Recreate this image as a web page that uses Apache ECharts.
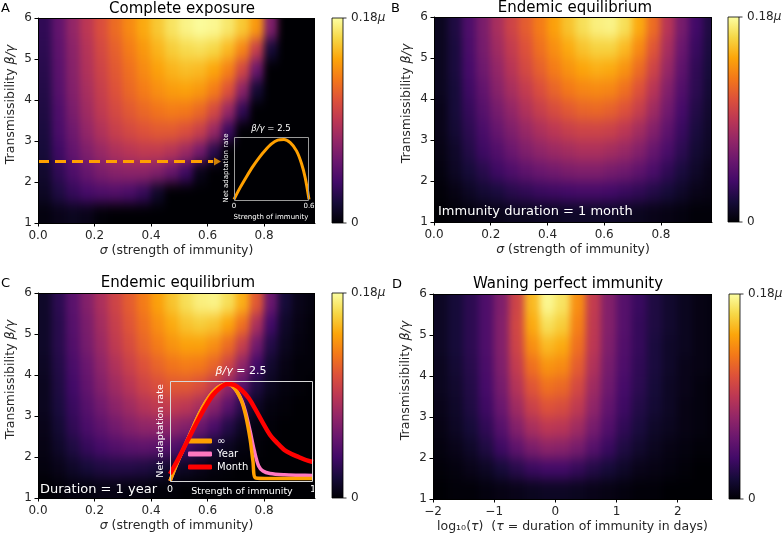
<!DOCTYPE html>
<html>
<head>
<meta charset="utf-8">
<script src="https://cdn.jsdelivr.net/npm/echarts@6/dist/echarts.min.js"></script>
<style>
    html, body { margin: 0; padding: 0; background: #fff; }
    #wrap { position: relative; width: 783px; height: 540px; }
    #heatClip, #main { position: absolute; left: 0; top: 0; width: 783px; height: 540px; }
    #heat { width: 783px; height: 540px; filter: url(#soften); }
</style>
</head>
<body>
<svg width="0" height="0" style="position:absolute">
    <filter id="soften" x="0" y="0" width="100%" height="100%" color-interpolation-filters="sRGB">
        <feGaussianBlur stdDeviation="3.8 6.5"/>
    </filter>
</svg>
<div id="wrap">
    <div id="heatClip"><div id="heat"></div></div>
    <div id="main"></div>
</div>
<script>
// ---- data (heat values in % of 0.18 mu) ----
var sigmaCentres = [0.025, 0.075, 0.125, 0.175, 0.225, 0.275, 0.325, 0.375, 0.425, 0.475,
                    0.525, 0.575, 0.625, 0.675, 0.725, 0.775, 0.825, 0.875, 0.925, 0.975];
var logTauCentres = [-1.875, -1.625, -1.375, -1.125, -0.875, -0.625, -0.375, -0.125, 0.125, 0.375,
                     0.625, 0.875, 1.125, 1.375, 1.625, 1.875, 2.125, 2.375, 2.625];
var betaCentres = [1.25, 1.75, 2.25, 2.75, 3.25, 3.75, 4.25, 4.75, 5.25, 5.75];

// rows run from beta/gamma = 1.25 (bottom) to 5.75 (top)
var completeExposure = [
    [2, 4, 5, 4, 1, 0, 0, 0, 0, 0, 0, 0, 0, 0, 0, 0, 0, 0, 0, 0],
    [6, 12, 17, 21, 23, 24, 22, 17, 7, 0, 0, 0, 0, 0, 0, 0, 0, 0, 0, 0],
    [8, 16, 23, 29, 34, 37, 38, 38, 35, 29, 19, 4, 0, 0, 0, 0, 0, 0, 0, 0],
    [10, 19, 28, 35, 41, 46, 49, 51, 51, 48, 42, 32, 14, 0, 0, 0, 0, 0, 0, 0],
    [11, 22, 31, 40, 47, 53, 57, 60, 62, 62, 59, 53, 41, 18, 0, 0, 0, 0, 0, 0],
    [12, 23, 34, 43, 51, 57, 62, 66, 69, 71, 70, 66, 57, 41, 16, 0, 0, 0, 0, 0],
    [13, 25, 36, 45, 53, 60, 66, 71, 75, 78, 79, 77, 71, 60, 38, 9, 0, 0, 0, 0],
    [14, 26, 37, 47, 55, 62, 68, 74, 79, 83, 85, 84, 80, 72, 56, 30, 0, 0, 0, 0],
    [15, 27, 38, 48, 57, 64, 71, 77, 83, 88, 91, 92, 90, 84, 73, 53, 10, 0, 0, 0],
    [16, 28, 40, 50, 59, 67, 74, 81, 87, 93, 97, 99, 98, 94, 87, 77, 35, 0, 0, 0]
];
var endemicMonth = [
    [0, 1, 2, 3, 4, 5, 5, 6, 6, 7, 7, 7, 7, 6, 5, 4, 3, 2, 1, 1],
    [1, 3, 6, 9, 11, 14, 16, 18, 19, 20, 21, 21, 20, 18, 16, 13, 10, 7, 4, 3],
    [2, 6, 10, 14, 19, 23, 27, 30, 32, 34, 35, 35, 33, 31, 27, 22, 16, 11, 7, 4],
    [3, 7, 13, 19, 24, 30, 35, 39, 42, 44, 46, 46, 44, 41, 36, 29, 22, 15, 9, 6],
    [4, 9, 15, 22, 29, 35, 41, 46, 50, 53, 55, 55, 54, 50, 44, 36, 27, 18, 11, 7],
    [4, 10, 17, 25, 33, 40, 47, 53, 58, 62, 65, 66, 64, 60, 53, 43, 32, 21, 13, 8],
    [5, 10, 19, 28, 37, 45, 52, 59, 65, 70, 73, 74, 73, 68, 60, 49, 36, 24, 15, 9],
    [5, 11, 21, 31, 40, 49, 57, 64, 71, 76, 80, 82, 81, 76, 67, 55, 41, 27, 16, 10],
    [5, 11, 22, 33, 43, 52, 60, 68, 75, 81, 86, 89, 89, 84, 74, 61, 45, 30, 18, 11],
    [5, 12, 23, 34, 45, 55, 63, 71, 79, 86, 92, 96, 97, 92, 81, 67, 49, 33, 20, 12]
];
var endemicYear = [
    [0, 1, 2, 2, 3, 3, 2, 2, 1, 1, 0, 0, 0, 0, 0, 0, 0, 0, 0, 0],
    [2, 4, 7, 10, 12, 13, 13, 12, 10, 8, 6, 4, 2, 1, 0, 0, 0, 0, 0, 0],
    [3, 7, 12, 17, 21, 24, 26, 27, 26, 24, 20, 15, 9, 5, 2, 1, 0, 0, 0, 0],
    [4, 9, 16, 22, 27, 32, 36, 39, 40, 39, 36, 30, 22, 13, 6, 2, 1, 0, 0, 0],
    [5, 11, 18, 25, 32, 38, 43, 48, 51, 52, 50, 45, 37, 26, 14, 6, 2, 1, 0, 0],
    [5, 12, 20, 28, 36, 43, 49, 55, 59, 62, 62, 59, 52, 40, 26, 12, 5, 2, 1, 0],
    [6, 13, 22, 30, 39, 47, 54, 60, 65, 69, 71, 70, 65, 55, 39, 20, 8, 3, 1, 1],
    [7, 14, 24, 33, 42, 51, 58, 65, 71, 76, 79, 79, 75, 67, 53, 32, 13, 5, 2, 1],
    [7, 14, 25, 34, 44, 53, 61, 68, 75, 81, 86, 88, 86, 80, 68, 46, 20, 7, 3, 1],
    [7, 15, 26, 36, 46, 55, 63, 71, 79, 86, 92, 96, 97, 92, 82, 62, 30, 10, 4, 2]
];
var waningPerfect = [
    [0, 1, 1, 2, 3, 4, 5, 6, 6, 5, 4, 3, 2, 1, 1, 0, 0, 0, 0],
    [1, 2, 4, 6, 10, 14, 18, 20, 20, 17, 13, 10, 7, 4, 3, 2, 1, 0, 0],
    [2, 4, 7, 12, 19, 27, 34, 38, 37, 33, 25, 18, 12, 8, 5, 3, 2, 1, 1],
    [3, 6, 10, 16, 25, 36, 45, 50, 49, 43, 33, 24, 16, 11, 7, 5, 3, 2, 1],
    [4, 7, 12, 19, 30, 43, 54, 60, 58, 51, 39, 28, 19, 13, 9, 6, 3, 2, 1],
    [5, 8, 13, 21, 33, 48, 61, 68, 66, 57, 43, 31, 21, 15, 10, 6, 4, 2, 1],
    [5, 9, 14, 22, 35, 52, 68, 76, 74, 63, 47, 33, 23, 16, 11, 7, 4, 3, 2],
    [6, 10, 15, 23, 36, 55, 75, 84, 81, 68, 50, 35, 24, 17, 11, 7, 5, 3, 2],
    [6, 10, 15, 23, 36, 56, 81, 92, 88, 72, 51, 36, 25, 17, 12, 8, 5, 3, 2],
    [6, 10, 15, 23, 35, 55, 84, 98, 93, 75, 52, 36, 25, 18, 12, 8, 5, 3, 2]
];

// dashed arrow at beta/gamma = 2.5 in panel A
var arrowSigma = [0, 0.62];
var arrowBeta = 2.5;
var arrowHeadSigma = 0.635;

// inset A: net adaptation rate at beta/gamma = 2.5, complete exposure
var insetASigma = [0, 0.05, 0.1, 0.15, 0.2, 0.25, 0.3, 0.35, 0.4, 0.45, 0.5, 0.54, 0.57, 0.6];
var insetARate  = [0.01, 0.2, 0.37, 0.53, 0.67, 0.79, 0.89, 0.95, 0.96, 0.91, 0.78, 0.58, 0.35, 0.01];

// inset C: net adaptation rate at beta/gamma = 2.5 for three immunity durations
var infSigma = [0, 0.05, 0.1, 0.15, 0.2, 0.25, 0.3, 0.35, 0.4, 0.45, 0.5, 0.53, 0.56, 0.58, 0.6, 0.7, 0.8, 0.9, 1];
var infRate  = [0.0, 0.18, 0.34, 0.5, 0.66, 0.79, 0.89, 0.95, 0.97, 0.93, 0.8, 0.65, 0.42, 0.2, 0.03, 0.025, 0.025, 0.025, 0.025];
var yearSigma = [0, 0.05, 0.1, 0.15, 0.2, 0.25, 0.3, 0.35, 0.4, 0.45, 0.5, 0.53, 0.56, 0.59, 0.62, 0.65, 0.7, 0.8, 0.9, 1];
var yearRate  = [0.0, 0.18, 0.34, 0.5, 0.66, 0.79, 0.89, 0.95, 0.97, 0.93, 0.81, 0.68, 0.5, 0.3, 0.15, 0.1, 0.075, 0.062, 0.058, 0.056];
var monthSigma = [0, 0.05, 0.1, 0.15, 0.2, 0.25, 0.3, 0.35, 0.4, 0.45, 0.5, 0.55, 0.6, 0.65, 0.7, 0.75, 0.8, 0.85, 0.9, 0.95, 1];
var monthRate  = [0.07, 0.2, 0.34, 0.48, 0.62, 0.75, 0.86, 0.93, 0.97, 0.96, 0.91, 0.83, 0.71, 0.58, 0.46, 0.38, 0.31, 0.27, 0.24, 0.21, 0.19];

var sigmaTicks = [0, 0.2, 0.4, 0.6, 0.8];
var logTauTicks = [-2, -1, 0, 1, 2];

// ---- layout ----
var panels = [
    {left: 38,  top: 18,  width: 277, height: 205},
    {left: 434, top: 17,  width: 278, height: 205},
    {left: 38,  top: 293, width: 277, height: 205},
    {left: 433, top: 294, width: 279, height: 205}
];
var insetA = {left: 234, top: 137, width: 75, height: 63};
var insetC = {left: 170, top: 381, width: 143, height: 100};
var inferno = ['#000004', '#160b39', '#420a68', '#6a176e', '#932667', '#bc3754',
               '#dd513a', '#f37819', '#fca50a', '#f6d746', '#fcffa4'];
var FONT = 'DejaVu Sans';
var INK = '#262626';
var ORANGE = '#ffa000';

function toCells(xs, ys, rows) {
    var out = [];
    rows.forEach(function (row, j) {
        row.forEach(function (v, i) { out.push([xs[i], ys[j], v]); });
    });
    return out;
}
function pairs(xs, ys) {
    return xs.map(function (x, i) { return [x, ys[i]]; });
}
// cells on the outer edge of a field are stretched past the frame so that
// the softening filter does not fade them; the frame clip trims them again
function cellRenderer(xs, ys, dx, dy) {
    var xmin = xs[0], xmax = xs[xs.length - 1], ymin = ys[0], ymax = ys[ys.length - 1];
    var pad = 24;
    return function (params, api) {
        var x = api.value(0), y = api.value(1);
        var p0 = api.coord([x - dx / 2, y + dy / 2]);
        var p1 = api.coord([x + dx / 2, y - dy / 2]);
        var l = p0[0] - 0.5, t = p0[1] - 0.5, r = p1[0] + 0.5, b = p1[1] + 0.5;
        if (x === xmin) l -= pad;
        if (x === xmax) r += pad;
        if (y === ymax) t -= pad;
        if (y === ymin) b += pad;
        return {type: 'rect', shape: {x: l, y: t, width: r - l, height: b - t},
                style: {fill: api.visual('color')}};
    };
}

var tickStyle = {color: INK, fontSize: 12, fontFamily: FONT};
function mainX(idx, min, max, ticks, name, fmt) {
    return {
        type: 'value', gridIndex: idx, min: min, max: max,
        axisLine: {show: true, onZero: false, lineStyle: {color: '#000', width: 1}},
        axisTick: {show: true, length: 3.5, customValues: ticks, lineStyle: {color: '#000'}},
        axisLabel: Object.assign({customValues: ticks, margin: 7, formatter: fmt}, tickStyle),
        splitLine: {show: false},
        name: name, nameLocation: 'middle', nameGap: 21,
        nameTextStyle: {color: INK, fontSize: 12.5, fontFamily: FONT,
            rich: {i: {fontStyle: 'italic', fontSize: 12.5, color: INK, fontFamily: FONT}}}
    };
}
function mainY(idx) {
    return {
        type: 'value', gridIndex: idx, min: 1, max: 6, interval: 1,
        axisLine: {show: true, onZero: false, lineStyle: {color: '#000', width: 1}},
        axisTick: {show: true, length: 3.5, lineStyle: {color: '#000'}},
        axisLabel: Object.assign({margin: 6}, tickStyle),
        splitLine: {show: false}
    };
}
function insetAxes(idx, max, ticks, fmt, fs, gapX) {
    return {
        x: {
            type: 'value', gridIndex: idx, min: 0, max: max,
            axisLine: {show: false}, axisTick: {show: false}, splitLine: {show: false},
            axisLabel: {customValues: ticks, margin: gapX, formatter: fmt,
                color: '#fff', fontSize: fs, fontFamily: FONT}
        },
        y: {
            type: 'value', gridIndex: idx, min: 0, max: 1, show: false
        }
    };
}

var sigFmt = function (v) { return v.toFixed(1); };
var tauFmt = function (v) { return String(v).replace('-', '\u2212'); };
var iA = insetAxes(4, 0.6, [0, 0.6], function (v) { return v === 0 ? '0' : '0.6'; }, 7, 3);
var iC = insetAxes(5, 1, [0, 1], function (v) { return String(v); }, 9.5, 4);

// ---- heat fields (lower layer, softened and clipped to the frames) ----
var fields = [
    {xs: sigmaCentres, rows: completeExposure, dx: 0.05, min: 0, max: 0.98},
    {xs: sigmaCentres, rows: endemicMonth, dx: 0.05, min: 0, max: 0.98},
    {xs: sigmaCentres, rows: endemicYear, dx: 0.05, min: 0, max: 0.98},
    {xs: logTauCentres, rows: waningPerfect, dx: 0.25, min: -2, max: 2.56}
];
document.getElementById('heatClip').style.clipPath = "path('" + panels.map(function (g) {
    return 'M' + g.left + ' ' + g.top + ' h' + g.width + ' v' + g.height + ' h' + (-g.width) + ' Z';
}).join(' ') + "')";

var heat = echarts.init(document.getElementById('heat'));
heat.setOption({
    animation: false,
    grid: panels.map(function (g) {
        return {left: g.left, top: g.top, width: g.width, height: g.height};
    }),
    xAxis: fields.map(function (f, i) {
        return {type: 'value', gridIndex: i, min: f.min, max: f.max, show: false};
    }),
    yAxis: fields.map(function (f, i) {
        return {type: 'value', gridIndex: i, min: 1, max: 6, show: false};
    }),
    visualMap: {
        type: 'continuous', show: false, min: 0, max: 100, dimension: 2,
        inRange: {color: inferno}
    },
    series: fields.map(function (f, i) {
        return {
            type: 'custom', xAxisIndex: i, yAxisIndex: i, silent: true,
            renderItem: cellRenderer(f.xs, betaCentres, f.dx, 0.5),
            encode: {x: 0, y: 1}, data: toCells(f.xs, betaCentres, f.rows)
        };
    })
});

// ---- graphic: frames, colorbars, titles, annotations ----
var graphics = [];
function frame(g, color) {
    graphics.push({type: 'rect', z: 100, silent: true,
        shape: {x: g.left + 0.5, y: g.top + 0.5, width: g.width - 1, height: g.height},
        style: {fill: null, stroke: color, lineWidth: 1}});
}
function colorbar(x, y, h) {
    var stops = inferno.slice().reverse().map(function (c, i) { return {offset: i / 10, color: c}; });
    graphics.push({type: 'rect', z: 100, shape: {x: x, y: y, width: 11, height: h},
        style: {fill: new echarts.graphic.LinearGradient(0, 0, 0, 1, stops), stroke: '#000', lineWidth: 0.8}});
    [y, y + h].forEach(function (ty) {
        graphics.push({type: 'line', z: 100, shape: {x1: x + 11, y1: ty, x2: x + 14.5, y2: ty},
            style: {stroke: '#000', lineWidth: 0.8}});
    });
    label('0.18{i|μ}', x + 19, y, 12, INK);
    label('0', x + 19, y + h, 12, INK);
}
function label(text, x, y, size, color, align, rotation) {
    graphics.push({type: 'text', z: 100, x: x, y: y, rotation: rotation || 0,
        style: {text: text, fill: color, fontSize: size, fontFamily: FONT,
            align: align || 'left', verticalAlign: 'middle',
            rich: {i: {fontStyle: 'italic', fontSize: size, fill: color, fontFamily: FONT}}}});
}
panels.forEach(function (g) {
    frame(g, '#000');
    label('Transmissibility {i|β/γ}', g.left - 27, g.top + g.height / 2 - 16, 12.5, INK, 'center', Math.PI / 2);
});
frame(insetA, '#9a9a9a');
frame(insetC, '#d8d8d8');
colorbar(332, 18, 205);
colorbar(728, 17, 205);
colorbar(332, 293, 205);
colorbar(729, 294, 205);
label('Complete exposure', 182, 9, 15, '#000', 'center');
label('Endemic equilibrium', 575, 8, 15, '#000', 'center');
label('Endemic equilibrium', 178, 283, 15, '#000', 'center');
label('Waning perfect immunity', 568, 284, 15, '#000', 'center');
label('A', 1, 9, 13, '#000');
label('B', 391, 9, 13, '#000');
label('C', 1, 284, 13, '#000');
label('D', 392, 285, 13, '#000');
label('Immunity duration = 1 month', 438, 212, 13, '#fff');
label('Duration = 1 year', 40, 490, 13, '#fff');
// inset captions
label('{i|β/γ} = 2.5', 271, 129, 8.5, '#fff', 'center');
label('Strength of immunity', 271, 217, 7, '#fff', 'center');
label('Net adaptation rate', 226, 168, 7, '#fff', 'center', Math.PI / 2);
label('{i|β/γ} = 2.5', 241, 371, 11, '#fff', 'center');
label('Strength of immunity', 242, 492, 9.5, '#fff', 'center');
label('Net adaptation rate', 161, 431, 9.5, '#fff', 'center', Math.PI / 2);

var chart = echarts.init(document.getElementById('main'));
chart.setOption({
    animation: false,
    backgroundColor: 'transparent',
    textStyle: {fontFamily: FONT},
    grid: panels.concat([insetA, insetC]).map(function (g) {
        return {left: g.left, top: g.top, width: g.width, height: g.height};
    }),
    xAxis: [
        mainX(0, 0, 0.98, sigmaTicks, '{i|σ} (strength of immunity)', sigFmt),
        mainX(1, 0, 0.98, sigmaTicks, '{i|σ} (strength of immunity)', sigFmt),
        mainX(2, 0, 0.98, sigmaTicks, '{i|σ} (strength of immunity)', sigFmt),
        mainX(3, -2, 2.56, logTauTicks, 'log\u2081\u2080({i|τ})  ({i|τ} = duration of immunity in days)', tauFmt),
        iA.x, iC.x
    ],
    yAxis: [mainY(0), mainY(1), mainY(2), mainY(3), iA.y, iC.y],
    legend: {
        data: ['\u221e', 'Year', 'Month'], orient: 'vertical', left: 188, top: 436,
        padding: 0, itemGap: 3, itemWidth: 24, itemHeight: 5, icon: 'roundRect',
        textStyle: {color: '#fff', fontSize: 10, fontFamily: FONT}
    },
    series: [
        {type: 'line', xAxisIndex: 0, yAxisIndex: 0, z: 5, showSymbol: false, silent: true,
         data: arrowSigma.map(function (s) { return [s, arrowBeta]; }),
         lineStyle: {color: ORANGE, width: 3, type: [11, 6]}},
        {type: 'scatter', xAxisIndex: 0, yAxisIndex: 0, z: 5, silent: true,
         symbol: 'triangle', symbolRotate: -90, symbolSize: [8, 7],
         itemStyle: {color: ORANGE}, data: [[arrowHeadSigma, arrowBeta]]},
        {type: 'line', xAxisIndex: 4, yAxisIndex: 4, z: 5, showSymbol: false, smooth: 0.3,
         data: pairs(insetASigma, insetARate), lineStyle: {color: ORANGE, width: 3}},
        {name: 'Year', type: 'line', xAxisIndex: 5, yAxisIndex: 5, z: 5, showSymbol: false, smooth: 0.3,
         data: pairs(yearSigma, yearRate), color: '#ff77c0', lineStyle: {color: '#ff77c0', width: 3.5}},
        {name: '\u221e', type: 'line', xAxisIndex: 5, yAxisIndex: 5, z: 6, showSymbol: false, smooth: 0.3,
         data: pairs(infSigma, infRate), color: ORANGE, lineStyle: {color: ORANGE, width: 3.5}},
        {name: 'Month', type: 'line', xAxisIndex: 5, yAxisIndex: 5, z: 7, showSymbol: false, smooth: 0.3,
         data: pairs(monthSigma, monthRate), color: '#ff0000', lineStyle: {color: '#ff0000', width: 4.5}}
    ],
    graphic: graphics
});
</script>
</body>
</html>
